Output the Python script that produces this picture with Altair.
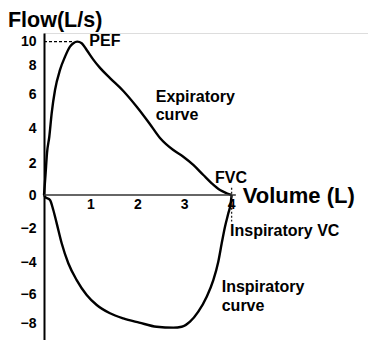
import altair as alt
import pandas as pd

# Expiratory limb (volume L, flow L/s)
exp_volume = [0, 0.032, 0.064, 0.113, 0.164, 0.235, 0.341, 0.448, 0.554, 0.625, 0.709,
              0.804, 0.910, 1.051, 1.194, 1.407, 1.691, 1.977, 2.245, 2.473, 2.757,
              2.970, 3.183, 3.397, 3.576, 3.753, 3.896, 4.0]
exp_flow = [0, 1.25, 2.57, 3.50, 4.88, 6.28, 7.66, 8.69, 9.53, 9.81, 9.95,
            9.81, 9.25, 8.45, 7.80, 7.10, 6.21, 5.25, 4.28, 3.43, 2.74,
            2.36, 1.88, 1.25, 0.73, 0.31, 0.11, 0]

# Inspiratory limb
insp_volume = [0, 0.021, 0.128, 0.198, 0.271, 0.377, 0.518, 0.697, 0.910, 1.124, 1.407,
               1.691, 2.03, 2.403, 2.757, 2.936, 3.113, 3.290, 3.469, 3.610, 3.716,
               3.789, 3.859, 3.930, 3.981, 4.0]
insp_flow = [0, -0.10, -0.30, -0.91, -1.72, -2.90, -4.08, -5.13, -6.07, -6.76, -7.33,
             -7.68, -7.97, -8.26, -8.32, -8.26, -7.91, -7.22, -6.19, -5.13, -3.98,
             -2.90, -1.92, -1.11, -0.50, 0]

y_ticks = [-8, -6, -4, -2, 0, 2, 4, 6, 8, 10]
x_ticks = [1, 2, 3, 4]
pef = 9.95
fvc = 4.0

FONT = "Liberation Sans"

xs = alt.Scale(domain=[0, 6.908], nice=False, zero=False)
ys = alt.Scale(domain=[-9.17, -8, -6, -4, -2, 0, 2, 4, 6, 8, 10, 10.64],
               range=[307, 290, 261, 229, 195, 162, 130, 95, 61, 32, 8, 0],
               nice=False, zero=False)

yaxis = alt.Axis(values=y_ticks, title=None, ticks=False, grid=False,
                 domain=True, domainColor="black", domainWidth=2, labelFont=FONT,
                 labelFontSize=14, labelFontWeight="bold", labelColor="black",
                 labelPadding=8, labelOverlap=False, labelFlush=False)


def X(f="v"):
    return alt.X(f"{f}:Q", scale=xs, axis=None)


def Y(f="f"):
    return alt.Y(f"{f}:Q", scale=ys, axis=yaxis)


exp_df = pd.DataFrame({"v": exp_volume, "f": exp_flow})
insp_df = pd.DataFrame({"v": insp_volume, "f": insp_flow})

exp_line = alt.Chart(exp_df).mark_line(color="black", strokeWidth=2.4,
                                       interpolate="monotone").encode(x=X(), y=Y())
insp_line = alt.Chart(insp_df).mark_line(color="black", strokeWidth=2.4,
                                         interpolate="monotone").encode(x=X(), y=Y())

xaxis_line = alt.Chart(pd.DataFrame({"v": [0], "v2": [4.09], "f": [0]})).mark_rule(
    color="#333333", strokeWidth=1.7).encode(x=X(), x2="v2:Q", y=Y())

pef_line = alt.Chart(pd.DataFrame({"v": [0], "v2": [0.63], "f": [pef]})).mark_rule(
    color="black", strokeWidth=1.3, strokeDash=[3, 2]).encode(x=X(), x2="v2:Q", y=Y())

fvc_line = alt.Chart(pd.DataFrame({"v": [fvc], "f": [0.45], "f2": [-1.6]})).mark_rule(
    color="#222222", strokeWidth=1.3, strokeDash=[2, 2]).encode(x=X(), y=Y(), y2="f2:Q")

xtick_labels = alt.Chart(pd.DataFrame({"v": x_ticks, "f": [-0.85] * 4,
                                       "t": [str(t) for t in x_ticks]})).mark_text(
    font=FONT, fontSize=14, fontWeight="bold", color="black", align="center",
    baseline="alphabetic").encode(x=X(), y=Y(), text="t:N")


def label(text, v, f, size=16):
    return alt.Chart(pd.DataFrame({"v": [v], "f": [f], "t": [text]})).mark_text(
        font=FONT, fontSize=size, fontWeight="bold", color="black", align="left",
        baseline="alphabetic").encode(x=X(), y=Y(), text="t:N")


labels = [
    label("Flow(L/s)", -0.768, 11.12, 21.5),
    label("PEF", 0.966, 9.58),
    label("Expiratory", 2.382, 5.53),
    label("curve", 2.382, 4.47),
    label("FVC", 3.646, 0.73),
    label("Volume (L)", 4.237, -0.50, 22),
    label("Inspiratory VC", 3.966, -2.47),
    label("Inspiratory", 3.789, -5.89),
    label("curve", 3.789, -7.15),
]

chart = alt.layer(exp_line, insp_line, xaxis_line, pef_line, fvc_line,
                  xtick_labels, *labels).properties(
    width=324, height=307,
    autosize=alt.AutoSizeParams(type="none"),
    padding={"left": 44, "top": 33, "right": 0, "bottom": 0},
).configure_view(stroke=None).configure(background="white")

chart.save("out.html", embed_options={"renderer": "svg", "actions": False})
